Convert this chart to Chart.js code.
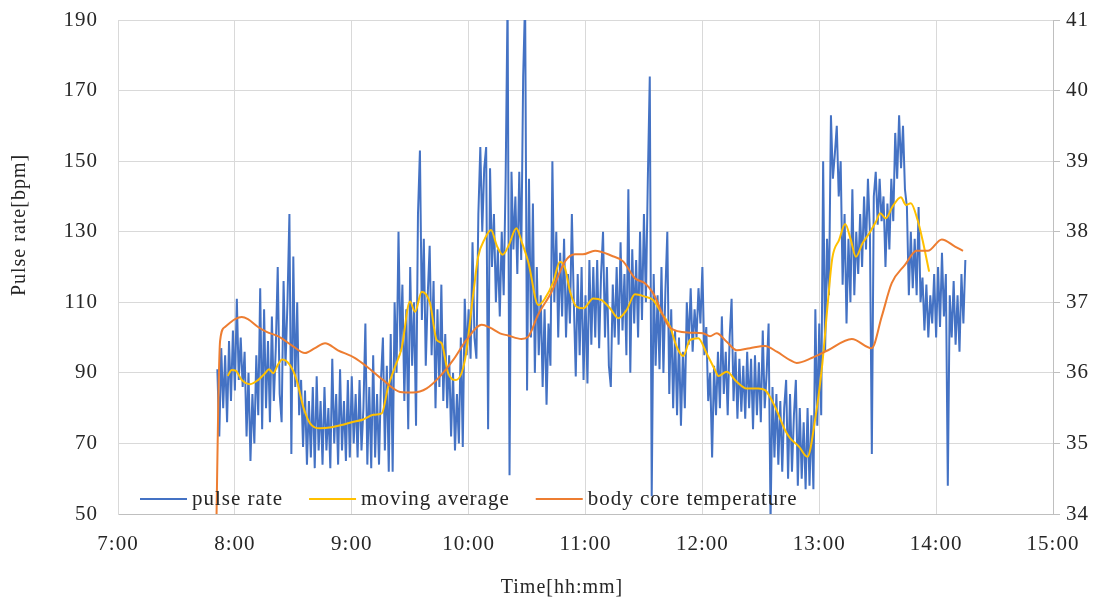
<!DOCTYPE html>
<html>
<head>
<meta charset="utf-8">
<script src="https://cdn.jsdelivr.net/npm/chart.js@4.4.0/dist/chart.umd.min.js"></script>
<style>
  html, body { margin: 0; padding: 0; background: #fff; }
</style>
</head>
<body>
<canvas id="chart" width="1108" height="601"></canvas>
<script>
// times are minutes after midnight
const pulseStart = 471; // first pulse sample (7:51), one sample per minute
const pulseRate = [
  91, 72, 97, 80, 95, 76, 99, 82, 102, 85,
  111, 88, 100, 86, 96, 72, 90, 65, 84, 70,
  95, 78, 114, 74, 108, 80, 99, 76, 106, 82,
  97, 120, 84, 76, 116, 92, 110, 135, 67, 123,
  86, 110, 78, 88, 69, 85, 64, 82, 66, 86,
  63, 89, 68, 82, 64, 86, 68, 80, 63, 94,
  70, 84, 64, 91, 68, 82, 65, 88, 66, 89,
  70, 84, 66, 88, 68, 80, 104, 64, 86, 63,
  95, 66, 84, 64, 88, 100, 68, 92, 62, 101,
  62, 110, 90, 130, 96, 115, 82, 108, 74, 120,
  92, 110, 75, 135, 153, 105, 128, 92, 112, 126,
  95, 116, 80, 108, 86, 115, 82, 101, 80, 95,
  72, 90, 68, 84, 70, 100, 69, 111, 95, 108,
  94, 127, 100, 94, 135, 154, 130, 148, 154, 74,
  148, 120, 135, 110, 125, 106, 130, 112, 145, 196,
  61, 147, 125, 140, 118, 147, 122, 174, 196, 85,
  145, 100, 138, 90, 120, 95, 112, 86, 108, 81,
  104, 92, 150, 110, 130, 100, 124, 106, 128, 100,
  118, 104, 135, 110, 89, 118, 95, 120, 88, 112,
  87, 122, 98, 120, 100, 122, 97, 118, 130, 100,
  120, 92, 86, 115, 100, 120, 98, 127, 102, 118,
  95, 142, 90, 125, 104, 122, 100, 130, 105, 135,
  110, 145, 174, 55, 118, 92, 112, 91, 120, 90,
  113, 130, 84, 108, 80, 102, 78, 100, 75, 96,
  80, 110, 98, 114, 96, 108, 100, 114, 104, 120,
  95, 103, 82, 90, 66, 92, 78, 96, 80, 106,
  84, 96, 78, 100, 111, 82, 96, 77, 94, 79,
  92, 77, 96, 80, 94, 74, 95, 78, 93, 76,
  102, 80, 90, 104, 48, 86, 66, 84, 64, 82,
  62, 80, 88, 60, 84, 62, 78, 88, 58, 80,
  60, 76, 57, 80, 58, 78, 57, 108, 75, 104,
  78, 150, 96, 128, 112, 163, 145, 152, 160, 140,
  150, 115, 135, 104, 128, 110, 142, 112, 130, 118,
  135, 120, 140, 125, 145, 130, 67, 140, 147, 132,
  145, 133, 140, 120, 138, 125, 145, 133, 158, 145,
  163, 148, 160, 142, 137, 112, 130, 114, 128, 112,
  137, 110, 117, 102, 115, 100, 112, 104, 118, 100,
  120, 103, 124, 106, 118, 58, 112, 100, 116, 98,
  112, 96, 118, 104, 122
];

const avgTimes = [
  476.3, 478.4, 480.4, 483.5, 487.8, 492.0, 495.5, 497.5, 499.7, 502.0,
  504.3, 508.3, 511.7, 515.1, 518.6, 523.7, 529.7, 534.8, 540.0, 545.9,
  551.1, 555.4, 558.7, 562.2, 565.6, 569.9, 572.5, 575.9, 580.2, 583.6,
  586.1, 589.5, 593.5, 598.1, 602.4, 604.9, 608.4, 611.5, 614.5, 617.5,
  620.5, 624.5, 627.2, 630.6, 635.8, 639.2, 643.5, 646.9, 649.5, 652.1,
  655.5, 658.9, 664.0, 668.3, 672.6, 676.8, 681.1, 685.4, 690.5, 694.8,
  699.1, 703.4, 706.8, 710.2, 713.6, 717.9, 722.2, 726.5, 728.2, 732.5,
  737.6, 742.7, 748.7, 752.2, 757.3, 762.4, 765.0, 769.6, 773.9, 778.1,
  781.6, 784.2, 786.7, 790.2, 793.3, 796.2, 798.8, 802.2, 805.6, 809.1,
  811.3, 814.2, 817.6, 821.9, 824.5, 827.0, 830.5, 833.0, 836.4
];
const avgValues = [
  89.1, 90.8, 90.6, 88.0, 86.8, 88.0, 89.9, 91.0, 89.9, 92.2,
  93.8, 92.2, 88.0, 80.4, 75.7, 74.3, 74.6, 75.2, 76.0, 76.8,
  78.1, 78.5, 86.1, 91.7, 97.0, 110.2, 107.3, 113.0, 109.7, 99.3,
  98.4, 89.9, 88.0, 93.6, 112.5, 122.9, 128.1, 130.5, 126.0, 123.5,
  126.0, 131.0, 127.2, 121.5, 109.2, 111.1, 115.8, 121.5, 119.6, 113.0,
  108.7, 108.3, 111.1, 110.6, 108.3, 105.5, 107.8, 112.3, 111.6, 110.6,
  106.9, 103.1, 97.4, 94.8, 99.3, 99.8, 95.5, 90.8, 89.1, 90.3,
  87.5, 85.6, 85.6, 85.1, 80.4, 73.8, 71.5, 69.1, 66.2, 77.6,
  92.7, 108.7, 122.5, 127.7, 132.2, 127.7, 122.9, 126.7, 129.5, 132.8,
  135.2, 133.8, 137.1, 139.8, 137.6, 138.1, 133.3, 127.7, 118.7
];

const tempTimes = [
  470.6, 471.5, 472.4, 474.9, 477.5, 480.1, 483.5, 486.7, 491.9, 496.3,
  502.1, 509.2, 516.0, 521.1, 526.3, 532.9, 541.7, 547.7, 556.0, 564.8,
  571.4, 578.5, 585.3, 592.0, 599.0, 606.7, 611.0, 616.1, 620.2, 627.2,
  630.5, 635.6, 642.6, 649.5, 654.6, 658.7, 664.9, 673.4, 679.3, 685.4,
  690.5, 694.7, 703.4, 713.6, 720.3, 723.9, 727.3, 732.5, 737.6, 744.4,
  752.2, 758.2, 765.0, 768.4, 776.1, 784.5, 796.7, 806.9, 812.1, 817.2,
  824.0, 830.0, 835.8, 842.9, 849.7, 853.8
];
const tempValues = [
  34.0, 35.6, 36.45, 36.65, 36.71, 36.76, 36.79, 36.76, 36.65, 36.58,
  36.52, 36.39, 36.28, 36.35, 36.42, 36.32, 36.21, 36.09, 35.90, 35.73,
  35.72, 35.78, 35.95, 36.18, 36.47, 36.68, 36.64, 36.56, 36.53, 36.48,
  36.51, 36.82, 37.15, 37.58, 37.68, 37.68, 37.73, 37.66, 37.58, 37.34,
  37.27, 37.13, 36.64, 36.57, 36.56, 36.52, 36.56, 36.44, 36.32, 36.35,
  36.38, 36.30, 36.18, 36.14, 36.21, 36.32, 36.48, 36.35, 36.80, 37.27,
  37.53, 37.73, 37.73, 37.89, 37.79, 37.73
];

const seriesNames = ['pulse rate', 'moving average', 'body core temperature'];
const xTitle = 'Time[hh:mm]';
const yTitle = 'Pulse rate[bpm]';

const pulsePoints = pulseRate.map((v, i) => ({ x: pulseStart + i, y: v }));
const avgPoints = avgTimes.map((t, i) => ({ x: t, y: avgValues[i] }));
const tempPoints = tempTimes.map((t, i) => ({ x: t, y: tempValues[i] }));

const FONT = '"Liberation Serif", "Times New Roman", serif';
const TEXT = '#262626';

Chart.defaults.font.family = FONT;
Chart.defaults.color = TEXT;

// draws legend inside the plot and the two axis titles
const decorations = {
  id: 'decorations',
  beforeDraw(chart) {
    chart.ctx.letterSpacing = '1px';
  },
  afterDatasetsDraw(chart) {
    const ctx = chart.ctx;
    const area = chart.chartArea;
    ctx.save();
    ctx.letterSpacing = '1px';
    ctx.font = '21px ' + FONT;
    ctx.textBaseline = 'middle';
    ctx.textAlign = 'left';
    const y = area.bottom - 15;
    let x = area.left + 22;
    chart.data.datasets.forEach(ds => {
      ctx.strokeStyle = ds.borderColor;
      ctx.lineWidth = 2;
      ctx.beginPath();
      ctx.moveTo(x, y);
      ctx.lineTo(x + 47, y);
      ctx.stroke();
      x += 52;
      ctx.fillStyle = TEXT;
      ctx.fillText(ds.label, x, y);
      x += ctx.measureText(ds.label).width + 26;
    });
    ctx.restore();
  },
  afterDraw(chart) {
    const ctx = chart.ctx;
    ctx.save();
    ctx.letterSpacing = '1px';
    ctx.fillStyle = TEXT;
    ctx.font = '20px ' + FONT;
    ctx.textAlign = 'center';
    ctx.textBaseline = 'middle';
    ctx.fillText(xTitle, 562, 588);
    ctx.translate(20, 225);
    ctx.rotate(-Math.PI / 2);
    ctx.fillText(yTitle, 0, 0);
    ctx.restore();
    ctx.letterSpacing = '0px';
  }
};

new Chart(document.getElementById('chart'), {
  type: 'line',
  data: {
    datasets: [
      {
        label: seriesNames[0],
        data: pulsePoints,
        borderColor: '#4472C4',
        backgroundColor: '#4472C4',
        borderWidth: 2,
        pointRadius: 0,
        tension: 0,
        yAxisID: 'y',
        order: 3,
      },
      {
        label: seriesNames[1],
        data: avgPoints,
        borderColor: '#FFC000',
        backgroundColor: '#FFC000',
        borderWidth: 2,
        pointRadius: 0,
        cubicInterpolationMode: 'monotone',
        yAxisID: 'y',
        order: 2,
      },
      {
        label: seriesNames[2],
        data: tempPoints,
        borderColor: '#ED7D31',
        backgroundColor: '#ED7D31',
        borderWidth: 2,
        pointRadius: 0,
        cubicInterpolationMode: 'monotone',
        yAxisID: 'y1',
        order: 1,
      },
    ],
  },
  options: {
    responsive: false,
    devicePixelRatio: 1,
    animation: false,
    layout: { padding: { top: 20, left: 0, right: 0, bottom: 0 } },
    plugins: {
      legend: { display: false },
      tooltip: { enabled: false },
    },
    scales: {
      x: {
        type: 'linear',
        min: 420,
        max: 900,
        ticks: {
          stepSize: 60,
          autoSkip: false,
          maxRotation: 0,
          padding: 18,
          font: { size: 21 },
          callback: v => Math.floor(v / 60) + ':' + String(v % 60).padStart(2, '0'),
        },
        grid: { color: '#d9d9d9', drawTicks: false },
        border: { color: '#bfbfbf' },
        afterFit: s => { s.height = 87; },
      },
      y: {
        position: 'left',
        min: 50,
        max: 190,
        ticks: { stepSize: 20, padding: 20, font: { size: 21 } },
        grid: { color: '#d9d9d9', drawTicks: false },
        border: { color: '#d9d9d9' },
        afterFit: s => { s.width = 118; s.paddingTop = 0; s.paddingBottom = 0; },
      },
      y1: {
        position: 'right',
        min: 34,
        max: 41,
        ticks: { stepSize: 1, padding: 6, font: { size: 21 } },
        grid: { drawOnChartArea: false, color: '#bfbfbf', tickLength: 7 },
        border: { color: '#bfbfbf' },
        afterFit: s => { s.width = 55; s.paddingTop = 0; s.paddingBottom = 0; },
      },
    },
  },
  plugins: [decorations],
});
</script>
</body>
</html>
